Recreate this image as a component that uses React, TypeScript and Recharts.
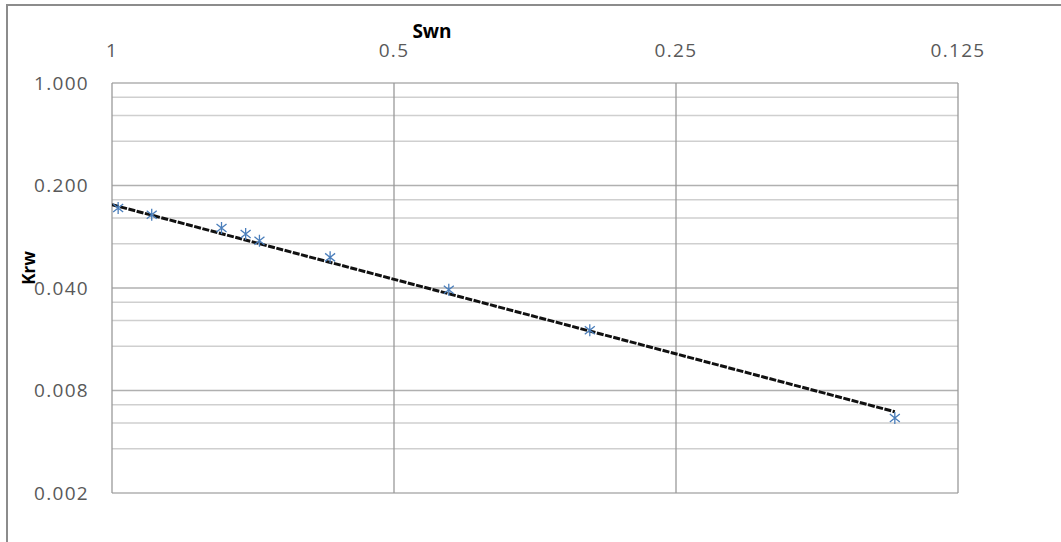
import React from "react";
import {
  ScatterChart,
  Scatter,
  XAxis,
  YAxis,
  ReferenceLine,
} from "recharts";

// measured points
const swn = [0.985, 0.907, 0.764, 0.72, 0.696, 0.585, 0.437, 0.309, 0.146];
const krw = [0.1405, 0.1264, 0.1026, 0.0934, 0.0841, 0.0647, 0.0389, 0.0206, 0.0052];

// power trendline end points
const trendSwn = [1, 0.146];
const trendKrw = [0.148, 0.00573];

// axis ticks (log base 2 on x, log base 5 on y)
const xTicks = [1, 0.5, 0.25, 0.125];
const yTicks = [0.0016, 0.008, 0.04, 0.2, 1];
const yMinor = [0.0032, 0.0048, 0.0064, 0.016, 0.024, 0.032, 0.08, 0.12, 0.16, 0.4, 0.6, 0.8];

const points = swn.map((x, i) => ({ x, y: krw[i] }));
const trend = trendSwn.map((x, i) => ({ x, y: trendKrw[i] }));

const FONT = "'Open Sans', sans-serif";
const tickStyle = { fontSize: 19, fill: "#595959", fontFamily: FONT, letterSpacing: 1.3 };

const Star = (props: any) => {
  const { cx, cy } = props;
  if (cx == null || cy == null) return null;
  const d = `M${cx},${cy - 6}L${cx},${cy + 6}M${cx - 5},${cy - 4}L${cx + 5},${cy + 4}M${cx - 5},${cy + 4}L${cx + 5},${cy - 4}`;
  return <path d={d} stroke="#4A7EBB" strokeWidth={1.3} fill="none" />;
};

const NoDot = () => null;

export default function App() {
  return (
    <>
      <div
        style={{
          position: "absolute",
          left: 6,
          top: 4,
          width: 1055,
          height: 538,
          borderLeft: "2px solid #8c8c8c",
          borderTop: "2px solid #8c8c8c",
          boxSizing: "border-box",
        }}
      />
      <div style={{ position: "absolute", left: 0, top: 0 }}>
        <ScatterChart
          width={1061}
          height={542}
          margin={{ top: 0, right: 103, bottom: 49, left: 0 }}
        >
          <XAxis
            type="number"
            dataKey="x"
            scale="log"
            domain={[0.125, 1]}
            reversed
            orientation="top"
            ticks={xTicks}
            tickFormatter={(v: number) => String(v)}
            height={83}
            axisLine={false}
            tickLine={false}
            tickSize={0}
            tickMargin={26}
            tick={tickStyle}
            interval={0}
            allowDataOverflow
            label={{
              content: () => (
                <text
                  x={432}
                  y={38}
                  textAnchor="middle"
                  fontFamily={FONT}
                  fontSize={19}
                  fontWeight="bold"
                  fill="#000"
                >
                  Swn
                </text>
              ),
            }}
          />
          <YAxis
            type="number"
            dataKey="y"
            scale="log"
            domain={[0.0016, 1]}
            ticks={yTicks}
            tickFormatter={(v: number) => v.toFixed(3)}
            width={112}
            axisLine={false}
            tickLine={false}
            tickSize={0}
            tickMargin={23}
            tick={tickStyle}
            interval={0}
            allowDataOverflow
            label={{
              content: () => (
                <text
                  x={35}
                  y={268}
                  transform="rotate(-90 35 268)"
                  textAnchor="middle"
                  fontFamily={FONT}
                  fontSize={17}
                  fontWeight="bold"
                  fill="#000"
                >
                  Krw
                </text>
              ),
            }}
          />
          {yMinor.map((v) => (
            <ReferenceLine key={"m" + v} y={v} stroke="#cfcfcf" strokeWidth={1.5} />
          ))}
          {yTicks.map((v) => (
            <ReferenceLine key={"y" + v} y={v} stroke="#b0b0b0" strokeWidth={1.5} />
          ))}
          {xTicks.map((v) => (
            <ReferenceLine key={"x" + v} x={v} stroke="#9a9a9a" strokeWidth={1.3} />
          ))}
          <Scatter
            data={trend}
            line={{ stroke: "#111", strokeWidth: 3, strokeDasharray: "7 1.5" }}
            shape={NoDot}
            isAnimationActive={false}
          />
          <Scatter data={points} shape={Star} isAnimationActive={false} />
        </ScatterChart>
      </div>
    </>
  );
}
